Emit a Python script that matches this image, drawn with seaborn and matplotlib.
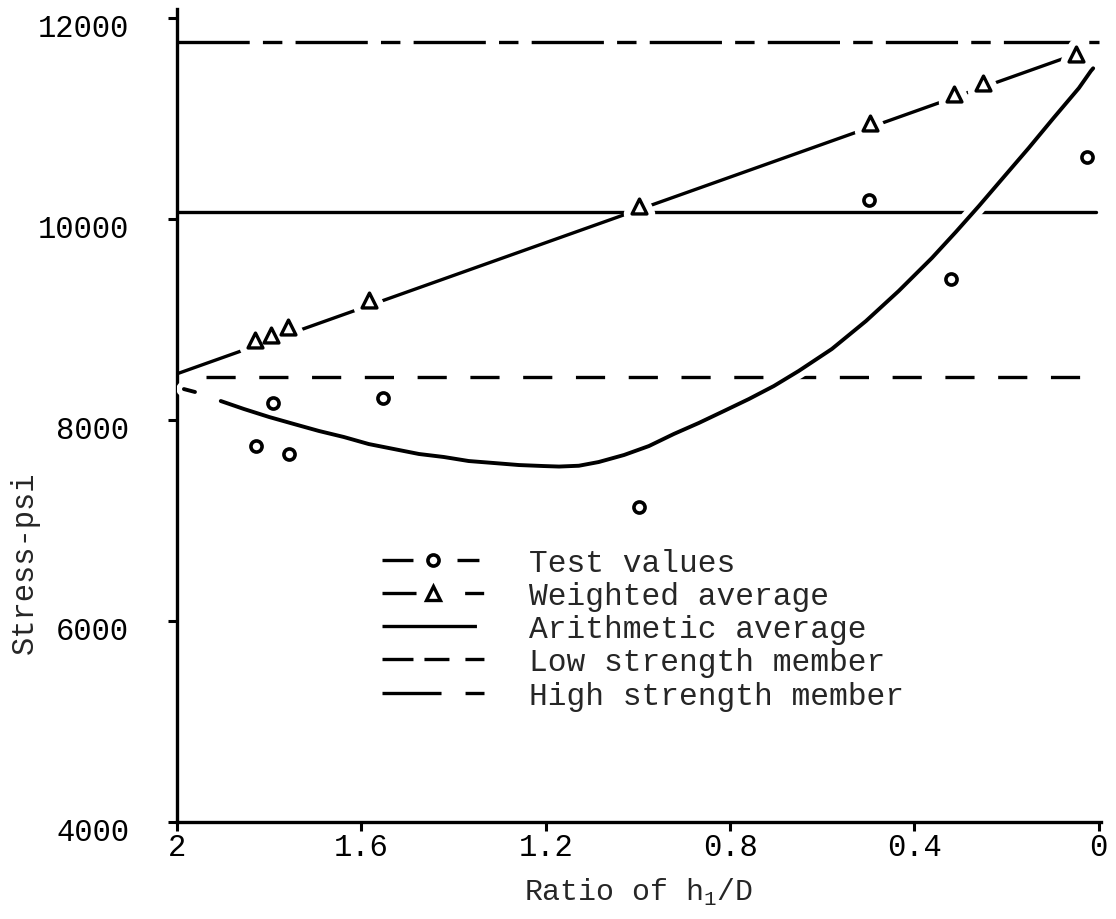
import matplotlib
matplotlib.use('Agg')
import matplotlib.pyplot as plt
import matplotlib.patheffects as pe
import matplotlib.transforms as mtransforms
from matplotlib.lines import Line2D
import numpy as np
import pandas as pd
import seaborn as sns

# Data
test_x = [1.829, 1.792, 1.757, 1.553, 0.998, 0.499, 0.321, 0.026]
test_y = [7740, 8170, 7660, 8220, 7135, 10190, 9405, 10615]

weighted_x = [1.831, 1.796, 1.759, 1.584, 0.998, 0.497, 0.315, 0.252, 0.050]
weighted_y = [8795, 8845, 8925, 9195, 10130, 10955, 11245, 11355, 11640]
weighted_line_x = [2.0, 0.05]
weighted_line_y = [8460, 11640]

# curve through the test values (pen lift after the first short stroke)
fit_seg = [0, 0] + [1] * 37
fit_x = [1.985, 1.961,
         1.905, 1.855, 1.800, 1.746, 1.692, 1.638, 1.584, 1.529, 1.475, 1.421,
         1.367, 1.312, 1.258, 1.204, 1.171, 1.128, 1.085, 1.030, 0.976, 0.922,
         0.868, 0.813, 0.759, 0.705, 0.651, 0.579, 0.505, 0.434, 0.362, 0.310,
         0.260, 0.206, 0.152, 0.098, 0.043, 0.017, 0.012]
fit_y = [8308, 8279,
         8189, 8110, 8030, 7960, 7891, 7831, 7761, 7711, 7662, 7632,
         7592, 7572, 7552, 7542, 7537, 7545, 7582, 7652, 7741, 7861,
         7970, 8090, 8209, 8338, 8488, 8707, 8985, 9284, 9612, 9871,
         10129, 10418, 10706, 11005, 11303, 11473, 11500]

arith_x = [2.0, 0.005]
arith_y = [10070, 10070]
low_x = [1.937, 0.015]
low_y = [8430, 8430]
high_x = [2.0, 0.0]
high_y = [11760, 11760]

x_ticks = [2, 1.6, 1.2, 0.8, 0.4, 0]
x_tick_labels = ['2', '1.6', '1.2', '0.8', '0.4', '0']
y_ticks = [4000, 6000, 8000, 10000, 12000]
y_tick_labels = ['4000', '6000', '8000', '10000', '12000']

legend_labels = ['Test values', 'Weighted average', 'Arithmetic average',
                 'Low strength member', 'High strength member']

# Style
sns.set_theme(style='ticks')
plt.rcParams['font.family'] = ['Liberation Mono', 'DejaVu Sans Mono']
plt.rcParams['lines.scale_dashes'] = False
plt.rcParams['mathtext.fontset'] = 'custom'
plt.rcParams['mathtext.rm'] = 'Liberation Mono'

LW = 2.4
fig = plt.figure(figsize=(11.16, 9.2), dpi=100)
ax = fig.add_axes([177 / 1116, 1 - 823 / 920, 924 / 1116, 813 / 920])

# horizontal reference levels
sns.lineplot(x=high_x, y=high_y, ax=ax, color='black', lw=LW, sort=False,
             linestyle=(0, (52, 9.5, 14, 9.5)), zorder=1)
sns.lineplot(x=arith_x, y=arith_y, ax=ax, color='black', lw=LW, sort=False, zorder=1)
sns.lineplot(x=low_x, y=low_y, ax=ax, color='black', lw=LW, sort=False,
             linestyle=(0, (21, 17)), zorder=1)

# weighted average line
sns.lineplot(x=weighted_line_x, y=weighted_line_y, ax=ax, color='black', lw=LW,
             sort=False, zorder=2)

# curve through test values, white edge so the lines it crosses break
fit_df = pd.DataFrame({'x': fit_x, 'y': fit_y, 'seg': fit_seg})
sns.lineplot(data=fit_df, x='x', y='y', units='seg', estimator=None, sort=False,
             ax=ax, color='black', lw=LW + 0.4, zorder=3,
             path_effects=[pe.withStroke(linewidth=11, foreground='white')])

sns.scatterplot(x=test_x, y=test_y, ax=ax, marker='o', s=64, facecolor='white',
                edgecolor='black', linewidth=2.6, zorder=4)
# white gap around each triangle, then the triangles themselves
sns.scatterplot(x=weighted_x, y=weighted_y, ax=ax, marker='^', s=115, facecolor='white',
                edgecolor='white', linewidth=12, zorder=4.5)
sns.scatterplot(x=weighted_x, y=weighted_y, ax=ax, marker='^', s=115, facecolor='white',
                edgecolor='black', linewidth=2.4, zorder=5)

# axes
ax.set_xlim(2.0, -0.005)
ax.set_ylim(4000, 12090)
ax.set_xticks(x_ticks)
ax.set_xticklabels(x_tick_labels)
ax.set_yticks(y_ticks)
ax.set_yticklabels(y_tick_labels)
sns.despine(ax=ax)
for side in ['left', 'bottom']:
    ax.spines[side].set_linewidth(LW)
    ax.spines[side].set_color('black')
ax.tick_params(axis='both', direction='out', length=6.5, width=2.2, colors='black',
               labelsize=22)
ax.tick_params(axis='y', pad=28)
ax.tick_params(axis='x', pad=1)
shift = mtransforms.ScaledTranslation(0, -5 / 72, fig.dpi_scale_trans)
for lab in ax.get_yticklabels():
    lab.set_transform(lab.get_transform() + shift)

ax.set_xlabel(r'Ratio of h$_\mathregular{1}$/D', fontsize=21.5, labelpad=10)
ax.set_ylabel('Stress-psi', fontsize=22)
ax.yaxis.set_label_coords(-0.148, 0.32)

# key drawn like the original
handles = [
    Line2D([], [], color='black', lw=LW, linestyle=(0, (22.3, 31.7, 15.8, 60)),
           marker='o', ms=8, mfc='white', mec='black', mew=2.6),
    Line2D([], [], color='black', lw=LW, linestyle=(0, (24.5, 35, 13.7, 60)),
           marker='^', ms=10.5, mfc='white', mec='black', mew=2.4),
    Line2D([], [], color='black', lw=LW, linestyle=(0, (68, 60))),
    Line2D([], [], color='black', lw=LW, linestyle=(0, (22.3, 7.9, 18, 11.5, 13.7, 60))),
    Line2D([], [], color='black', lw=LW, linestyle=(0, (42.5, 17.3, 13.7, 60))),
]
ax.legend(handles, legend_labels, loc='upper left', bbox_to_anchor=(0.222, 0.337),
          frameon=False, borderpad=0, borderaxespad=0, handlelength=3.26,
          handletextpad=1.45, labelspacing=0.1, fontsize=22.5)

fig.savefig('out.png', dpi=100)
